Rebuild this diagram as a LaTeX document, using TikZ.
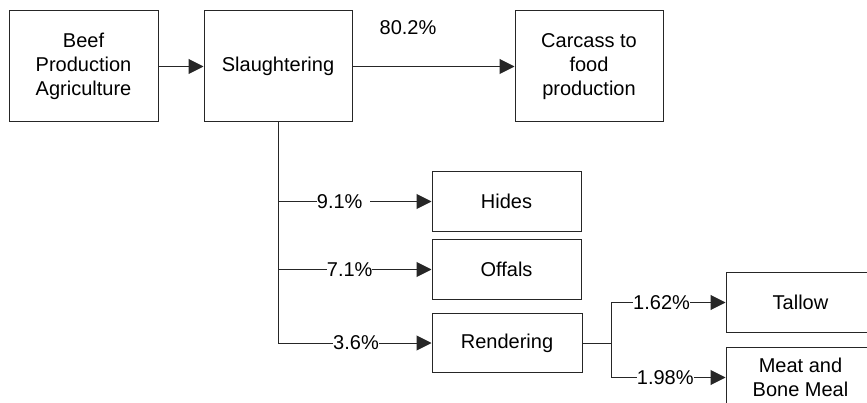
\documentclass[tikz,border=0pt]{standalone}
\usepackage{fontspec}
\setmainfont{Liberation Sans}
\usepackage{tikz}
\usetikzlibrary{arrows.meta,positioning}

\tikzset{
  stagebox/.style={draw=black!85, line width=1pt, align=center, inner sep=0pt},
  flow/.style={draw=black!85, line width=1pt, -{Triangle[length=15pt,width=15pt]}},
  share/.style={fill=white, inner sep=0pt, anchor=west}
}

\begin{document}
\begin{tikzpicture}[x=1pt,y=-1pt,font=\fontsize{20pt}{24pt}\selectfont]
\clip (0,0) rectangle (867,403);
% upper row
\node [stagebox, minimum width=149pt, minimum height=111pt] (beef) at (83.5,66.5) {Beef\\Production\\Agriculture};
\node [stagebox, minimum width=148pt, minimum height=111pt] (slaughter) at (278,66.5) {Slaughtering};
\node [stagebox, minimum width=148pt, minimum height=111pt] (carcass) at (589,66.5) {Carcass to\\food\\production};
\draw [flow] (beef) -- (slaughter);
\draw [flow] (slaughter) -- (carcass);
\node [] (p802) at (408,28) {80.2\%};
% by-products
\node [stagebox, minimum width=149pt, minimum height=60pt] (hides) at (506.5,201.5) {Hides};
\node [stagebox, minimum width=149pt, minimum height=60pt] (offals) at (506.5,269.5) {Offals};
\node [stagebox, minimum width=150pt, minimum height=59pt] (render) at (507,343) {Rendering};
\draw [flow] (slaughter.south) |- (hides.west);
\draw [flow] (slaughter.south) |- (offals.west);
\draw [flow] (slaughter.south) |- (render.west);
\node [share] (p91) at (316.7,201.5) {9.1\%\rule{8pt}{0pt}};
\node [share] (p71) at (326.7,269.5) {7.1\%};
\node [share] (p36) at (333,343) {3.6\%};
% rendering outputs
\node [stagebox, minimum width=149pt, minimum height=60pt] (tallow) at (800.5,302.5) {Tallow};
\node [stagebox, minimum width=149pt, minimum height=60pt] (meal) at (800.5,377.5) {Meat and\\Bone Meal};
\coordinate (split) at (611.7,343);
\draw [draw=black!85, line width=1pt] (render.east) -- (split);
\draw [flow] (split) |- (tallow.west);
\draw [flow] (split) |- (meal.west);
\node [share] (p162) at (633,302.5) {1.62\%};
\node [share] (p198) at (636.7,377.5) {1.98\%};
\end{tikzpicture}
\end{document}
